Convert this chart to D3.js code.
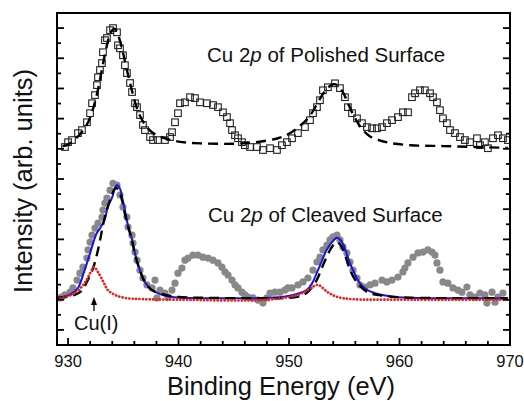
<!DOCTYPE html>
<html><head><meta charset="utf-8">
<script src="https://cdn.jsdelivr.net/npm/d3@7"></script>
<style>
html,body{margin:0;padding:0;background:#fff;}
svg{display:block;font-family:"Liberation Sans",Arial,sans-serif;}
</style></head>
<body>
<svg id="c" width="524" height="401"></svg>
<script>
// ---- Data (binding energy eV, intensity arb. units) ----
const polishedE = [929.72,930.00,930.36,930.90,931.26,931.71,931.99,932.17,932.44,932.62,932.71,932.89,933.07,933.16,933.34,933.52,933.80,934.07,934.43,934.52,934.70,934.97,935.15,935.33,935.61,935.79,936.06,936.24,936.51,936.78,936.96,937.42,937.69,938.14,938.77,939.23,939.41,939.68,939.95,940.13,940.58,941.04,941.49,941.94,942.57,943.12,943.57,944.02,944.38,944.66,944.84,945.11,945.38,945.74,946.01,946.47,947.10,947.64,948.28,948.91,949.36,949.81,950.27,950.81,951.44,951.90,952.17,952.53,952.80,953.07,953.52,954.16,954.61,955.06,955.33,955.70,956.15,956.60,957.05,957.51,957.96,958.41,958.86,959.32,959.86,960.31,960.77,961.13,961.40,961.85,962.30,962.76,963.03,963.39,963.66,963.93,964.29,964.57,965.02,965.47,965.92,966.38,967.01,967.28,967.73,968.00,968.46,968.91,969.36,969.81];
const polishedI = [6.06,6.22,6.29,6.52,6.62,6.88,7.18,7.51,7.78,8.11,8.37,8.61,8.84,9.20,9.60,9.67,9.93,10.00,9.86,9.43,9.33,9.10,8.77,8.51,8.18,7.88,7.51,7.38,7.12,6.79,6.62,6.39,6.29,6.29,6.29,6.39,6.55,6.88,7.18,7.51,7.54,7.71,7.68,7.54,7.51,7.45,7.38,7.21,7.05,6.85,6.62,6.45,6.35,6.22,6.12,6.06,6.06,5.96,6.02,5.96,6.12,6.22,6.35,6.52,6.72,6.95,7.18,7.38,7.61,7.94,8.04,8.17,8.01,7.71,7.38,7.18,7.01,6.85,6.72,6.68,6.68,6.72,6.85,6.95,7.05,7.21,7.21,7.71,7.84,7.94,7.94,7.84,7.71,7.54,7.28,7.01,6.85,6.62,6.52,6.39,6.29,6.22,6.35,6.12,6.22,6.02,6.35,6.45,6.35,6.29];

const polishedFitE = [929.5,930.0,931.0,931.7,932.2,932.7,933.1,933.5,933.9,934.2,934.5,934.9,935.3,935.7,936.1,936.5,937.0,937.6,938.5,940.0,942.0,945.0,947.0,949.0,950.0,951.0,951.8,952.4,953.0,953.5,954.0,954.4,954.9,955.4,956.0,956.6,957.3,958.2,959.2,961.0,964.0,967.0,969.8];
const polishedFitI = [6.09,6.14,6.45,6.80,7.25,7.95,8.70,9.40,9.88,9.98,9.80,9.30,8.65,8.05,7.50,7.10,6.78,6.55,6.38,6.24,6.18,6.17,6.22,6.35,6.50,6.76,7.05,7.40,7.78,8.02,8.14,8.10,7.86,7.45,7.00,6.66,6.42,6.28,6.19,6.12,6.09,6.06,6.03];

const cleavedE = [929.27,929.45,929.72,930.18,930.45,930.81,931.08,931.35,931.71,931.81,931.99,932.17,932.44,932.71,933.07,933.16,933.34,933.52,933.80,934.07,934.43,934.70,934.97,935.33,935.43,935.79,935.88,936.06,936.24,936.51,936.78,937.14,937.60,937.87,938.05,938.32,938.77,939.05,939.41,939.68,939.95,940.31,940.58,940.86,941.31,941.76,942.21,942.67,943.12,943.57,943.93,944.20,944.48,944.84,945.11,945.38,945.74,946.01,946.29,946.74,947.19,947.64,948.00,948.28,948.73,949.18,949.63,949.90,950.27,950.81,951.26,951.71,952.17,952.53,952.80,953.07,953.43,953.71,953.98,954.34,954.61,954.88,955.24,955.52,955.79,956.15,956.42,956.87,957.33,957.78,958.41,958.86,959.32,959.86,960.31,960.49,960.76,961.22,961.67,962.12,962.57,962.94,963.21,963.39,963.66,963.93,964.38,964.84,965.29,965.65,966.10,966.38,966.83,967.28,967.73,967.91,968.37,968.64,968.91,969.36];
const cleavedI = [1.06,1.09,1.16,1.25,1.39,1.65,1.88,2.08,2.38,2.65,2.91,3.14,3.37,3.54,3.74,3.97,4.20,4.37,4.63,4.86,4.80,4.47,4.07,3.74,3.41,3.14,2.88,2.58,2.31,1.98,1.72,1.49,1.39,1.65,1.06,1.32,1.22,1.09,1.32,1.55,1.88,2.05,2.31,2.38,2.48,2.48,2.41,2.38,2.31,2.22,2.08,1.92,1.82,1.65,1.49,1.39,1.25,1.16,1.09,1.06,0.99,0.89,1.06,1.22,1.25,1.25,1.32,1.39,1.39,1.49,1.59,1.72,1.98,2.25,2.41,2.65,2.81,2.98,3.08,3.14,2.98,2.75,2.55,2.25,1.98,1.72,1.49,1.42,1.49,1.55,1.65,1.59,1.65,1.75,1.92,2.05,2.22,2.41,2.55,2.58,2.65,2.58,2.48,2.22,1.98,1.59,1.55,1.39,1.32,1.25,1.42,1.16,1.09,1.22,1.16,0.89,1.25,0.92,1.09,1.22];

const totalFitE = [929.0,929.8,930.4,930.9,931.5,932.0,932.3,932.6,932.9,933.3,933.6,934.0,934.25,934.45,934.7,934.95,935.2,935.45,935.8,936.05,936.5,936.95,937.6,938.5,939.4,941.0,944.0,947.0,949.5,950.8,951.6,952.1,952.5,953.0,953.4,953.9,954.34,954.8,955.1,955.5,956.0,956.4,957.1,957.8,958.7,959.9,963.0,966.0,969.8];
const totalFitI = [1.06,1.12,1.22,1.39,1.98,2.55,2.91,3.21,3.37,3.64,4.07,4.40,4.70,4.80,4.68,4.30,3.87,3.41,2.98,2.55,1.98,1.59,1.32,1.16,1.09,1.06,1.05,1.05,1.10,1.20,1.32,1.55,1.88,2.31,2.65,2.91,3.05,2.91,2.65,2.22,1.82,1.55,1.32,1.22,1.14,1.08,1.05,1.05,1.05];

const cu2FitE = [929.0,930.6,931.3,931.7,932.2,932.6,932.9,933.2,933.5,933.8,934.3,934.55,934.9,935.15,935.45,935.8,936.05,936.5,936.95,937.6,938.8,940.0,943.0,948.0,950.5,951.5,952.35,952.6,953.2,953.8,954.3,954.7,955.0,955.6,956.2,957.1,958.4,960.0,965.0,969.8];
const cu2FitI = [1.06,1.16,1.32,1.59,1.98,2.48,2.98,3.54,3.97,4.30,4.70,4.65,4.27,3.84,3.41,2.94,2.51,1.98,1.59,1.32,1.16,1.09,1.06,1.05,1.08,1.20,1.55,1.72,2.25,2.70,2.91,2.80,2.55,1.92,1.55,1.25,1.14,1.08,1.05,1.05];

const cu1FitE = [929.0,929.45,930.6,931.5,932.0,932.35,932.7,933.2,933.6,934.25,935.15,936.7,940.0,948.0,950.8,951.7,952.6,953.5,954.4,955.7,960.0,969.8];
const cu1FitI = [1.03,1.06,1.22,1.55,1.88,2.08,1.92,1.59,1.32,1.16,1.06,1.02,1.00,1.00,1.16,1.32,1.49,1.25,1.09,1.02,1.00,1.00];

const xTicks = [930,940,950,960,970];
const xTickLabels = ["930","940","950","960","970"];
const xMinorTicks = [930,932,934,936,938,940,942,944,946,948,950,952,954,956,958,960,962,964,966,968,970];
const yMajorTicks = [0,1,2,3,4,5,6,7,8,9,10];
const yMinorTicks = [-0.5,0.5,1.5,2.5,3.5,4.5,5.5,6.5,7.5,8.5,9.5];

const labels = {
  polished: ["Cu 2", "p", " of Polished Surface"],
  cleaved: ["Cu 2", "p", " of Cleaved Surface"],
  cu1: "Cu(I)",
  xTitle: "Binding Energy (eV)",
  yTitle: "Intensity (arb. units)"
};

// ---- Layout ----
const L = 57, R = 510, T = 13, B = 345;
const svg = d3.select("#c");
const x = d3.scaleLinear().domain([929, 970]).range([L, R]);
const y = d3.scaleLinear().domain([-0.5, 10.5]).range([B, T]);

const zip = (a, b) => a.map((v, i) => [v, b[i]]);
const line = d3.line().x(d => x(d[0])).y(d => y(d[1])).curve(d3.curveCatmullRom.alpha(0.5));

const plot = svg.append("g");
plot.append("clipPath").attr("id", "clip").append("rect")
  .attr("x", L).attr("y", T).attr("width", R - L).attr("height", B - T);
const g = plot.append("g").attr("clip-path", "url(#clip)");

// Cleaved data circles
g.selectAll("circle.cl").data(zip(cleavedE, cleavedI)).join("circle")
  .attr("cx", d => x(d[0])).attr("cy", d => y(d[1])).attr("r", 3.6)
  .attr("fill", "#888888");

// Fits (lower)
g.append("path").attr("d", line(zip(totalFitE, totalFitI)))
  .attr("fill", "none").attr("stroke", "#1515e0").attr("stroke-width", 2);
g.append("path").attr("d", line(zip(cu2FitE, cu2FitI)))
  .attr("fill", "none").attr("stroke", "#000").attr("stroke-width", 2.4)
  .attr("stroke-dasharray", "10,6");
g.append("path").attr("d", line(zip(cu1FitE, cu1FitI)))
  .attr("fill", "none").attr("stroke", "#e8201c").attr("stroke-width", 2.7)
  .attr("stroke-dasharray", "0.1,3.3").attr("stroke-linecap", "round");

// Polished data squares (hollow)
const s = 6.6;
g.selectAll("rect.po").data(zip(polishedE, polishedI)).join("rect")
  .attr("x", d => x(d[0]) - s / 2).attr("y", d => y(d[1]) - s / 2)
  .attr("width", s).attr("height", s)
  .attr("fill", "none").attr("stroke", "#222").attr("stroke-width", 1.1);

// Polished fit (dashed)
g.append("path").attr("d", line(zip(polishedFitE, polishedFitI)))
  .attr("fill", "none").attr("stroke", "#000").attr("stroke-width", 2.4)
  .attr("stroke-dasharray", "10,6");

// ---- Axes ----
const ax = svg.append("g").attr("stroke", "#000").attr("stroke-width", 1.8);
ax.selectAll("line.xmin").data(xMinorTicks).join("line")
  .attr("x1", d => x(d)).attr("x2", d => x(d))
  .attr("y1", B).attr("y2", d => B - (xTicks.includes(d) ? 7 : 4));
ax.selectAll("line.ylM").data(yMajorTicks).join("line")
  .attr("x1", L).attr("x2", L + 7).attr("y1", d => y(d)).attr("y2", d => y(d));
ax.selectAll("line.ylm").data(yMinorTicks).join("line")
  .attr("x1", L).attr("x2", L + 4).attr("y1", d => y(d)).attr("y2", d => y(d));
ax.selectAll("line.yrM").data(yMajorTicks).join("line")
  .attr("x1", R).attr("x2", R - 7).attr("y1", d => y(d)).attr("y2", d => y(d));
ax.selectAll("line.yrm").data(yMinorTicks).join("line")
  .attr("x1", R).attr("x2", R - 4).attr("y1", d => y(d)).attr("y2", d => y(d));

svg.append("rect").attr("x", L).attr("y", T).attr("width", R - L).attr("height", B - T)
  .attr("fill", "none").attr("stroke", "#000").attr("stroke-width", 2);

// x tick labels
svg.selectAll("text.xt").data(xTicks).join("text")
  .attr("x", d => x(d)).attr("y", 367).attr("text-anchor", "middle")
  .attr("font-size", 16.5).attr("fill", "#111")
  .text((d, i) => xTickLabels[i]);

// axis titles
svg.append("text").attr("x", 281).attr("y", 395).attr("text-anchor", "middle")
  .attr("font-size", 25.5).attr("fill", "#111").text(labels.xTitle);
svg.append("text").attr("transform", `translate(32,181) rotate(-90)`)
  .attr("text-anchor", "middle").attr("font-size", 25.5).attr("fill", "#111").text(labels.yTitle);

// Annotations
function spectrumLabel(parts, xx, yy) {
  const t = svg.append("text").attr("x", xx).attr("y", yy).attr("font-size", 20.5).attr("fill", "#111");
  t.append("tspan").text(parts[0]);
  t.append("tspan").attr("font-style", "italic").text(parts[1]);
  t.append("tspan").text(parts[2]);
}
spectrumLabel(labels.polished, 207, 62);
spectrumLabel(labels.cleaved, 208, 222);

svg.append("text").attr("x", 74).attr("y", 330).attr("font-size", 20).attr("fill", "#111").text(labels.cu1);
// arrow
const ax0 = x(932.35);
svg.append("line").attr("x1", ax0).attr("x2", ax0).attr("y1", 311).attr("y2", 302)
  .attr("stroke", "#000").attr("stroke-width", 1.3);
svg.append("path").attr("d", `M${ax0-3},${305} L${ax0},${297} L${ax0+3},${305} Z`).attr("fill", "#000");
</script>
</body></html>
